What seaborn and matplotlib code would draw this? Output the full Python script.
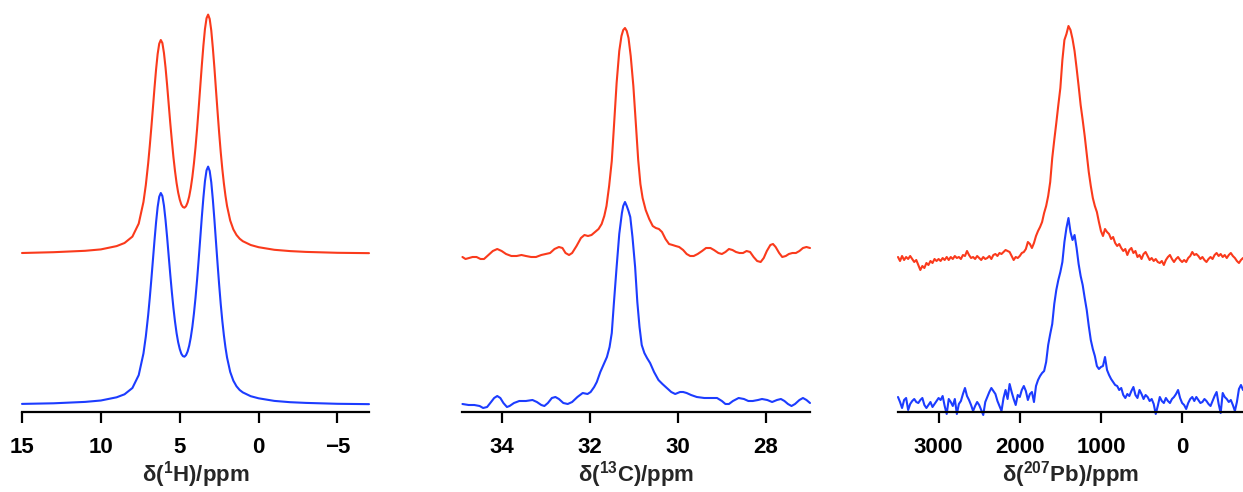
import numpy as np
import matplotlib
matplotlib.use("Agg")
import matplotlib.pyplot as plt
import seaborn as sns

# ---------------- 1H spectra (ppm, intensity above own baseline) ----------------
h_ppm = [15, 13, 11, 10, 9, 8.5, 8, 7.6, 7.3, 7.15, 7.0, 6.9, 6.8, 6.7, 6.6, 6.5, 6.4, 6.3,
         6.2, 6.1, 6.0, 5.9, 5.8, 5.7, 5.6, 5.5, 5.4, 5.3, 5.2, 5.1, 5.0, 4.9, 4.8, 4.7,
         4.6, 4.5, 4.4, 4.3, 4.2, 4.1, 4.0, 3.9, 3.8, 3.7, 3.6, 3.5, 3.4, 3.3, 3.2, 3.1,
         3.0, 2.9, 2.8, 2.7, 2.6, 2.5, 2.4, 2.3, 2.2, 2.1, 2.0, 1.8, 1.6, 1.4, 1.2, 1.0,
         0.5, 0, -1, -2, -3, -5, -7]
h_blue = [1.1, 1.7, 3.1, 4.5, 7.7, 10.7, 17.0, 29.9, 51.5, 68.5, 90.1, 107, 125.5, 145, 164.5, 182.7, 198, 208.3,
          212, 209, 199.4, 185, 167.9, 149.1, 130.5, 113, 97.1, 83.5, 71.9, 62.8, 56.1, 51.3, 48.9, 48.3,
          49.9, 53.5, 59.3, 67.5, 78.1, 91.4, 107.1, 125.2, 145.2, 166.4, 187.8, 207.3, 223.9, 234.7, 238.4, 234,
          222.7, 205.4, 185.1, 162.9, 141, 120.1, 100.9, 84.1, 69.7, 57.5, 47.5, 33.1, 24.3, 18.7, 15, 12.6,
          8.8, 6.7, 4.1, 2.8, 2.1, 1.2, 0.85]
h_red = [1.0, 1.8, 3.2, 4.6, 7.9, 11.0, 17.4, 30.4, 52.0, 69.0, 90.8, 108, 126.5, 146, 166, 184.5, 200, 210.3,
         214, 211, 201, 186.5, 169, 150, 131, 113.5, 97, 83, 71, 61.5, 54.5, 49.5, 47, 46.3,
         47.8, 51.5, 57.5, 66, 77, 90.5, 106.5, 125, 145.5, 167, 188.5, 208.3, 225, 235.8, 239.4, 235,
         223.5, 206, 186, 163.8, 142, 121, 101.8, 85, 70.5, 58.2, 48, 33.5, 24.6, 19.0, 15.3, 12.8,
         9.0, 6.8, 4.2, 2.9, 2.1, 1.2, 0.85]

# ---------------- 13C spectra ----------------
c_blue_ppm = [34.89, 34.75, 34.62, 34.50, 34.42, 34.33, 34.24, 34.17, 34.10, 34.03, 33.96, 33.88,
              33.82, 33.72, 33.60, 33.45, 33.30, 33.20, 33.10, 33.03, 32.95, 32.86, 32.78, 32.70,
              32.60, 32.50, 32.40, 32.28, 32.16, 32.05, 31.98, 31.90, 31.84, 31.76, 31.68, 31.61,
              31.55, 31.50, 31.45, 31.39, 31.33, 31.27, 31.24, 31.20, 31.16, 31.12, 31.08, 31.03,
              30.97, 30.92, 30.87, 30.82, 30.76, 30.70, 30.63, 30.54, 30.44, 30.35, 30.25, 30.15,
              30.06, 29.95, 29.88, 29.80, 29.70, 29.57, 29.40, 29.26, 29.11, 29.00, 28.92, 28.84,
              28.75, 28.62, 28.50, 28.40, 28.30, 28.18, 28.09, 27.97, 27.86, 27.75, 27.66, 27.58,
              27.50, 27.42, 27.34, 27.24, 27.16, 27.08, 27.00]
c_blue = [-2, -3, -3, -4, -6, -5, 0, 4, 6, 4, -1, -5,
          -4, -1, 1, 1, 2, 0, -3, -4, -1, 4, 5, 3,
          -1, -2, 0, 5, 9, 8, 10, 15, 20, 30, 38, 45,
          55, 69, 100, 135, 168, 189, 196, 200, 196, 191, 185, 165,
          135, 100, 75, 57, 49, 44, 39, 30, 22, 18, 14, 10,
          8, 10, 10, 9, 7, 5, 4, 4, 4, 1, -2, -2,
          1, 4, 3, 1, 1, 2, 3, 2, 0, 2, 3, 1,
          -2, -4, -2, 2, 4, 2, -1]
c_red_ppm = [34.89, 34.82, 34.74, 34.66, 34.57, 34.48, 34.40, 34.30, 34.20, 34.10, 34.00, 33.90,
             33.78, 33.66, 33.55, 33.45, 33.33, 33.22, 33.10, 33.00, 32.90, 32.80, 32.70, 32.62,
             32.55, 32.47, 32.40, 32.30, 32.20, 32.12, 32.04, 31.96, 31.88, 31.80, 31.73, 31.67,
             31.62, 31.56, 31.50, 31.45, 31.39, 31.33, 31.28, 31.24, 31.20, 31.16, 31.12, 31.07,
             31.01, 30.95, 30.90, 30.85, 30.80, 30.73, 30.65, 30.57, 30.50, 30.43, 30.36, 30.28,
             30.20, 30.12, 30.05, 29.97, 29.88, 29.80, 29.72, 29.64, 29.55, 29.45, 29.36, 29.26,
             29.18, 29.08, 29.00, 28.92, 28.84, 28.76, 28.68, 28.60, 28.52, 28.44, 28.36, 28.28,
             28.20, 28.12, 28.05, 27.98, 27.90, 27.84, 27.78, 27.70, 27.63, 27.55, 27.48, 27.40,
             27.32, 27.24, 27.16, 27.08, 27.00]
c_red = [-1, -3, -2, -1, -1, -3, -3, 1, 5, 7, 5, 2,
         0, 0, 1, 0, -1, -1, 1, 2, 3, 7, 9, 8,
         3, 1, 3, 10, 18, 21, 20, 21, 24, 27, 32, 40,
         50, 70, 95, 130, 173, 205, 220, 226, 228, 225, 218, 200,
         170, 130, 96, 72, 58, 46, 37, 30, 28, 27, 24, 17,
         12, 11, 10, 9, 6, 2, 0, 0, 2, 5, 8, 8,
         6, 3, 2, 4, 7, 6, 4, 3, 3, 5, 4, -1,
         -5, -6, -2, 5, 11, 12, 9, 3, -1, 0, 2, 3,
         3, 5, 8, 9, 8]

# ---------------- 207Pb spectra (uniform ppm grid, 25 ppm spacing) ----------------
pb_ppm = np.arange(3500, -751, -25)
pb_blue = [3, -2, -8, 0, 2, -10, -4, -1, 1, -2,
           -3, 0, 2, -5, -8, -5, -2, -7, -4, -1,
           2, 0, 4, -6, -14, 1, -2, -6, 1, -14,
           -4, -1, 6, 12, 4, 0, -5, -11, -6, -2,
           -5, -10, -15, -2, 3, 8, 12, 9, 6, -1,
           -6, -11, 2, 10, 1, 16, 8, 1, -5, 5,
           3, 10, 14, 9, 0, 6, 8, -2, 14, 20,
           24, 27, 29, 38, 55, 66, 76, 96, 110, 120,
           128, 138, 158, 172, 182, 168, 160, 165, 152, 136,
           124, 115, 102, 90, 74, 60, 51, 44, 34, 31,
           33, 34, 43, 30, 25, 21, 18, 15, 14, 10,
           12, 5, 2, 6, 4, 9, 13, 5, 2, 10,
           6, 1, 5, 3, -1, 1, -4, -14, -6, 3,
           -1, -3, 2, -1, -3, 1, 3, 6, 10, 2,
           -3, -5, -9, -3, 1, 3, -1, 3, 0, -3,
           -2, 1, -1, -4, -6, -1, 4, 8, -4, -13,
           7, 3, 1, -2, 0, -5, -11, -2, 11, 15, 10]
pb_red = [1, -3, 2, -2, 1, -1, 2, -1, -4, -2,
          -7, -12, -8, -10, -5, -7, -3, -5, -1, -3,
          -1, -3, 0, -2, 1, -2, 1, -1, 2, 0,
          1, -1, 3, 2, 7, 3, 0, 1, -1, 2,
          0, -2, 1, -1, 0, 2, -1, 3, 4, 2,
          5, 4, 6, 8, 7, 6, 2, -2, 1, 0,
          2, 5, 6, 9, 16, 14, 10, 15, 22, 27,
          31, 36, 45, 52, 62, 76, 100, 118, 135, 153,
          170, 198, 218, 224, 232, 228, 219, 207, 190, 172,
          153, 138, 122, 104, 86, 72, 60, 52, 46, 36,
          27, 22, 29, 26, 24, 19, 21, 15, 12, 14,
          10, 7, 9, 3, 8, 10, 5, 7, 1, 3,
          -1, 4, 6, 2, -2, 0, -3, -1, -4, -5,
          -3, -7, -2, 1, 3, -1, -4, -1, 1, -2,
          -4, -2, -4, 0, 2, 6, 3, 4, 2, -1,
          1, -2, -4, -1, 1, -1, 3, 5, 2, 4,
          1, 3, 0, 3, 5, 2, 0, -3, -5, -2, 0]

RED = "#FA3A1C"
BLUE = "#1C3CFF"

sns.set_theme(style="white")
plt.rcParams["font.family"] = ["Liberation Sans", "DejaVu Sans"]
plt.rcParams["mathtext.fontset"] = "custom"
plt.rcParams["mathtext.rm"] = "Liberation Sans:bold"
plt.rcParams["mathtext.bf"] = "Liberation Sans:bold"
plt.rcParams["mathtext.default"] = "rm"

W, H = 1243, 492
fig = plt.figure(figsize=(W / 100, H / 100), dpi=100)


def make_axes(left_px, right_px, bottom_px=412, top_px=5):
    return fig.add_axes([left_px / W, (H - bottom_px) / H,
                         (right_px - left_px) / W, (bottom_px - top_px) / H])


panels = [
    dict(box=(22, 369), xlim=(15, -7), ylim=(-7, 400), ticks=[15, 10, 5, 0, -5],
         label=r"δ($^{1}$H)/ppm",
         blue=(h_ppm, h_blue), red=(h_ppm, h_red), offset=151),
    dict(box=(462, 810), xlim=(34.9, 27.0), ylim=(-10, 397), ticks=[34, 32, 30, 28],
         label=r"δ($^{13}$C)/ppm",
         blue=(c_blue_ppm, c_blue), red=(c_red_ppm, c_red), offset=146),
    dict(box=(898, 1243), xlim=(3500, -750), ylim=(-12, 395), ticks=[3000, 2000, 1000, 0],
         label=r"δ($^{207}$Pb)/ppm",
         blue=(pb_ppm, pb_blue), red=(pb_ppm, pb_red), offset=142),
]

for p in panels:
    ax = make_axes(*p["box"])
    bx, by = p["blue"]
    rx, ry = p["red"]
    sns.lineplot(x=np.asarray(bx, float), y=np.asarray(by, float), ax=ax,
                 color=BLUE, lw=1.5, sort=False, estimator=None)
    sns.lineplot(x=np.asarray(rx, float), y=np.asarray(ry, float) + p["offset"], ax=ax,
                 color=RED, lw=1.5, sort=False, estimator=None)
    for ln in ax.get_lines():
        ln.set_clip_on(False)
        ln.set_solid_joinstyle("round")
    ax.set_xlim(*p["xlim"])
    ax.set_ylim(*p["ylim"])
    ax.set_xticks(p["ticks"])
    ax.set_xticklabels([f"{t:g}".replace("-", "\u2212") for t in p["ticks"]],
                       fontsize=16, fontweight="bold")
    ax.set_yticks([])
    ax.set_ylabel("")
    ax.set_xlabel(p["label"], fontsize=16, fontweight="bold", labelpad=1)
    for s in ["left", "top", "right"]:
        ax.spines[s].set_visible(False)
    ax.spines["bottom"].set_linewidth(1.6)
    ax.spines["bottom"].set_color("black")
    ax.tick_params(axis="x", direction="out", length=8, width=1.6, pad=10,
                   color="black", labelcolor="black", bottom=True)
    ax.set_facecolor("none")

fig.savefig("out.png", dpi=100, facecolor="white")
